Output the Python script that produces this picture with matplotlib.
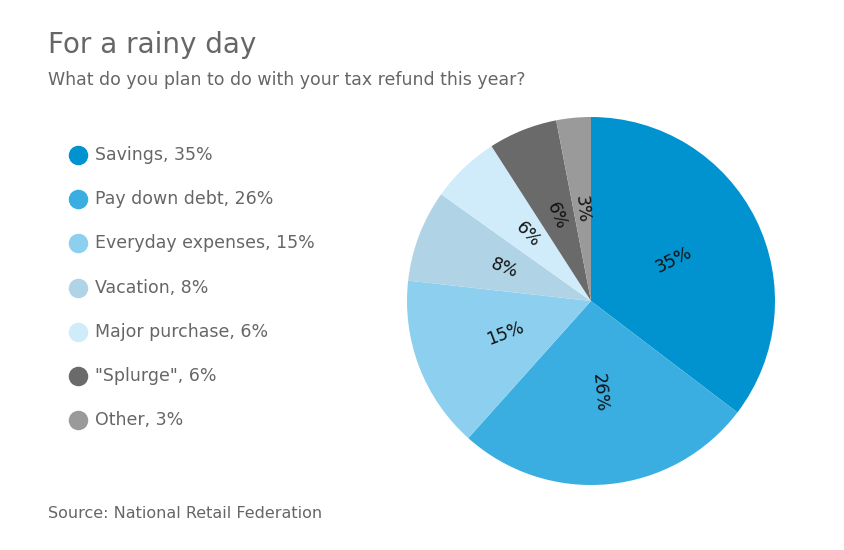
import matplotlib.pyplot as plt
import numpy as np

categories = ['Savings', 'Pay down debt', 'Everyday expenses', 'Vacation',
              'Major purchase', '"Splurge"', 'Other']
shares = [35, 26, 15, 8, 6, 6, 3]
colors = ['#0093d0', '#3aaee0', '#8ccfee', '#b0d4e6', '#d0ecfb', '#6a6a6a', '#9a9a9a']

W, H = 844, 550
fig = plt.figure(figsize=(W / 100, H / 100), dpi=100)

# pie axes: centre ~(591,301), radius ~184 px
r = 184
cx, cy = 591, 301
ax = fig.add_axes([(cx - r) / W, 1 - (cy + r) / H, 2 * r / W, 2 * r / H])
wedges, _ = ax.pie(shares, colors=colors, startangle=90, counterclock=False,
                   wedgeprops=dict(linewidth=0))
ax.set_aspect('equal')

total = sum(shares)
start = 90.0
for v in shares:
    span = 360.0 * v / total
    mid = start - span / 2
    start -= span
    rad = np.deg2rad(mid)
    d = 0.5
    rot = mid % 360
    if 90 < rot < 270:
        rot -= 180
    ax.text(d * np.cos(rad), d * np.sin(rad), f'{v}%', rotation=rot,
            rotation_mode='anchor', ha='center', va='center', fontsize=12.5, color='#111111')
    # anchor-rotation centred text
ax.set_xlim(-1, 1)
ax.set_ylim(-1, 1)

grey = '#666666'
fig.text(48 / W, 1 - 45 / H, 'For a rainy day', fontsize=20, color=grey, va='center')
fig.text(48 / W, 1 - 80 / H, 'What do you plan to do with your tax refund this year?',
         fontsize=12.5, color=grey, va='center')
fig.text(48 / W, 1 - 514 / H, 'Source: National Retail Federation',
         fontsize=11.5, color=grey, va='center')

lax = fig.add_axes([0, 0, 1, 1], facecolor='none')
lax.set_xlim(0, W)
lax.set_ylim(H, 0)
lax.axis('off')
for i, (c, v, col) in enumerate(zip(categories, shares, colors)):
    y = 155 + i * 44.2
    lax.scatter([78], [y], s=170, color=col, zorder=3)
    lax.text(95, y, f'{c}, {v}%', fontsize=12.5, color=grey, va='center')

fig.savefig('out.png', dpi=100)
